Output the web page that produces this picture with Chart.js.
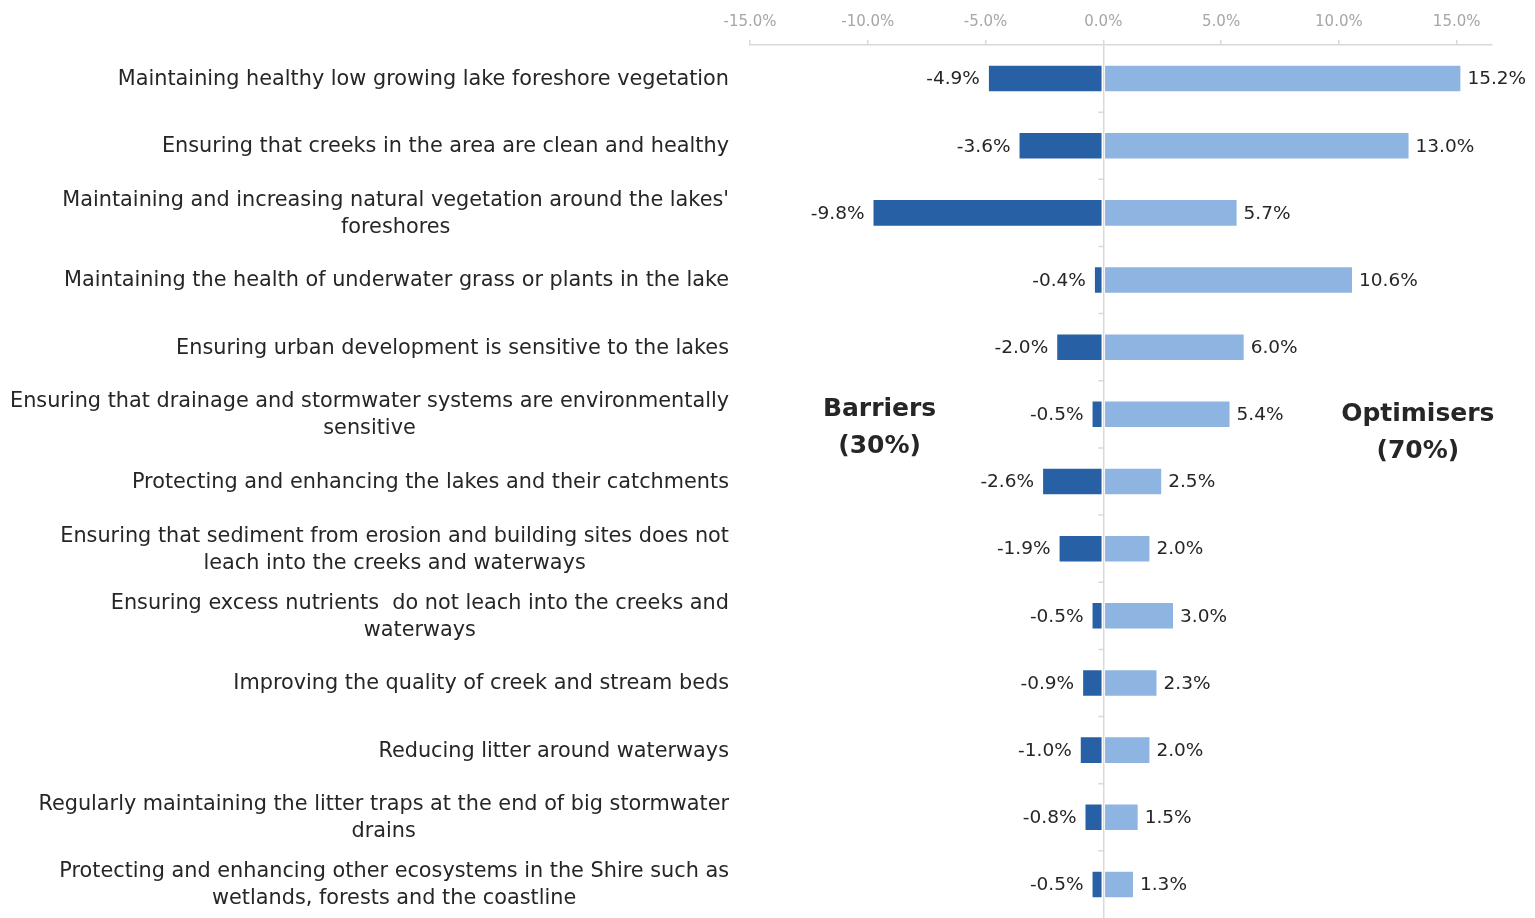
<!DOCTYPE html>
<html>
<head>
<meta charset="utf-8">
<script src="https://cdn.jsdelivr.net/npm/chart.js@4.4.1/dist/chart.umd.min.js"></script>
<style>
html,body{margin:0;padding:0;background:#fff;}
#wrap{width:1535px;height:918px;position:relative;}
</style>
</head>
<body>
<div id="wrap"><canvas id="c" width="1535" height="918"></canvas></div>
<script>
const categories = [
  ["Maintaining healthy low growing lake foreshore vegetation"],
  ["Ensuring that creeks in the area are clean and healthy"],
  ["Maintaining and increasing natural vegetation around the lakes'", "foreshores"],
  ["Maintaining the health of underwater grass or plants in the lake"],
  ["Ensuring urban development is sensitive to the lakes"],
  ["Ensuring that drainage and stormwater systems are environmentally", "sensitive"],
  ["Protecting and enhancing the lakes and their catchments"],
  ["Ensuring that sediment from erosion and building sites does not", "leach into the creeks and waterways"],
  ["Ensuring excess nutrients  do not leach into the creeks and", "waterways"],
  ["Improving the quality of creek and stream beds"],
  ["Reducing litter around waterways"],
  ["Regularly maintaining the litter traps at the end of big stormwater", "drains"],
  ["Protecting and enhancing other ecosystems in the Shire such as", "wetlands, forests and the coastline"]
];
const barriers = [-4.9, -3.6, -9.8, -0.4, -2.0, -0.5, -2.6, -1.9, -0.5, -0.9, -1.0, -0.8, -0.5];
const optimisers = [15.2, 13.0, 5.7, 10.6, 6.0, 5.4, 2.5, 2.0, 3.0, 2.3, 2.0, 1.5, 1.3];
const xTickValues = [-15, -10, -5, 0, 5, 10, 15];
const groupLabels = [["Barriers", "(30%)"], ["Optimisers", "(70%)"]];

const FONT = "'DejaVu Sans', sans-serif";
const TEXT = '#262626';

const catLabelPlugin = {
  id: 'catLabels',
  afterDraw(chart) {
    const ctx = chart.ctx;
    const y = chart.scales.y;
    const rightX = chart.chartArea.left - 21;
    ctx.save();
    ctx.font = '20.8px ' + FONT;
    ctx.fillStyle = TEXT;
    ctx.textAlign = 'center';
    ctx.textBaseline = 'middle';
    const lh = 27;
    categories.forEach((lines, i) => {
      const cy = y.getPixelForValue(i) + 1;
      const w = Math.max(...lines.map(l => ctx.measureText(l).width));
      const cx = rightX - w / 2;
      const y0 = cy - (lines.length - 1) * lh / 2;
      lines.forEach((l, k) => ctx.fillText(l, cx, y0 + k * lh));
    });
    ctx.restore();
  }
};

const valueLabelPlugin = {
  id: 'valueLabels',
  afterDatasetsDraw(chart) {
    const ctx = chart.ctx;
    ctx.save();
    ctx.font = '18.5px ' + FONT;
    ctx.fillStyle = TEXT;
    ctx.textBaseline = 'middle';
    chart.data.datasets.forEach((ds, di) => {
      const meta = chart.getDatasetMeta(di);
      meta.data.forEach((el, i) => {
        const v = ds.data[i];
        const txt = v.toFixed(1) + '%';
        if (v < 0) { ctx.textAlign = 'right'; ctx.fillText(txt, el.x - 8, el.y + 1); }
        else { ctx.textAlign = 'left'; ctx.fillText(txt, el.x + 6, el.y + 1); }
      });
    });
    ctx.restore();
  }
};

const decoPlugin = {
  id: 'deco',
  afterDatasetsDraw(chart) {
    const ctx = chart.ctx;
    const x = chart.scales.x, y = chart.scales.y;
    const zx = x.getPixelForValue(0);
    ctx.save();
    ctx.strokeStyle = '#d9d9d9';
    ctx.lineWidth = 1.5;
    ctx.beginPath();
    for (let i = 0; i < categories.length - 1; i++) {
      const by = (y.getPixelForValue(i) + y.getPixelForValue(i + 1)) / 2;
      ctx.moveTo(zx - 5, by);
      ctx.lineTo(zx, by);
    }
    ctx.stroke();
    // group labels
    ctx.font = 'bold 25px ' + FONT;
    ctx.fillStyle = TEXT;
    ctx.textAlign = 'center';
    ctx.textBaseline = 'middle';
    const bx = x.getPixelForValue(-9.5), ox = x.getPixelForValue(13.35);
    const yb = y.getPixelForValue(5);
    ctx.fillText(groupLabels[0][0], bx, yb - 5);
    ctx.fillText(groupLabels[0][1], bx, yb + 32);
    ctx.fillText(groupLabels[1][0], ox, yb);
    ctx.fillText(groupLabels[1][1], ox, yb + 37);
    ctx.restore();
  }
};

new Chart(document.getElementById('c'), {
  type: 'bar',
  data: {
    labels: categories.map(c => c.join(' ')),
    datasets: [
      { label: 'Barriers', data: barriers, backgroundColor: '#2860A5', borderColor: 'rgba(255,255,255,0.5)', borderWidth: 1, borderSkipped: false },
      { label: 'Optimisers', data: optimisers, backgroundColor: '#8EB4E1', borderColor: 'rgba(255,255,255,0.5)', borderWidth: 1, borderSkipped: false }
    ]
  },
  options: {
    indexAxis: 'y',
    responsive: false,
    animation: false,
    events: [],
    layout: { padding: { left: 750, right: 43, top: 4, bottom: 0 } },
    datasets: { bar: { categoryPercentage: 1, barPercentage: 0.41 } },
    plugins: { legend: { display: false }, tooltip: { enabled: false } },
    scales: {
      x: {
        position: 'top',
        min: -15, max: 16.5,
        stacked: true,
        afterBuildTicks(scale) { scale.ticks = xTickValues.map(v => ({ value: v })); },
        ticks: {
          font: { family: FONT, size: 15 },
          color: '#a6a6a6',
          padding: 9,
          maxRotation: 0,
          callback: v => Number(v).toFixed(1) + '%'
        },
        grid: {
          drawOnChartArea: true,
          color: ctx => (ctx.tick && ctx.tick.value === 0) ? '#d9d9d9' : 'rgba(0,0,0,0)',
          lineWidth: 1.5,
          tickColor: '#d9d9d9',
          tickLength: 5
        },
        border: { display: true, color: '#d9d9d9', width: 1.5 }
      },
      y: {
        display: false,
        stacked: true
      }
    }
  },
  plugins: [decoPlugin, valueLabelPlugin, catLabelPlugin]
});
</script>
</body>
</html>
